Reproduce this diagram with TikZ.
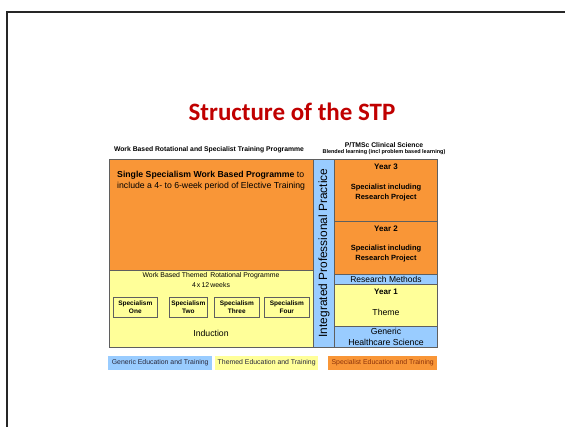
\documentclass[tikz,border=0pt]{standalone}
\usepackage{fontspec}
\setmainfont{Liberation Sans}
\newfontfamily\titlefont{Carlito}
\newcommand\fsz[2]{\fontsize{#1}{#2}\selectfont}
\definecolor{orng}{RGB}{249,150,55}
\definecolor{yel}{RGB}{255,255,153}
\definecolor{blu}{RGB}{153,204,255}
\definecolor{bord}{RGB}{95,95,95}
\definecolor{ttl}{RGB}{192,0,0}
\definecolor{legtxt}{RGB}{40,40,60}
\definecolor{legor}{RGB}{140,50,10}
\tikzset{
  box/.style={draw=bord, line width=0.8pt, inner sep=0pt, anchor=north west},
  legbox/.style={inner sep=0pt, anchor=north west, minimum height=14pt},
  txt/.style={inner sep=0pt},
  smallbox/.style={draw=bord, line width=0.6pt, fill=yel, inner sep=0pt, anchor=north west,
     minimum height=20pt, align=center, font=\bfseries\fsz{6.5}{7.6}},
}
\begin{document}
\begin{tikzpicture}[x=1pt,y=-1pt]
\useasboundingbox (0,0) rectangle (565,427);
% slide frame
\coordinate (fbl) at (7,430);
\coordinate (ftl) at (7,12);
\coordinate (ftr) at (568,12);
\draw[line width=1.5pt, black!85] (fbl) -- (ftl) -- (ftr);
% title
\node[txt, font=\titlefont\bfseries\fsz{25}{30}, text=ttl] (title) at (292,112) {Structure of the STP};
% headers
\node[txt, font=\bfseries\fsz{6.8}{8}] (hdrL) at (209,150) {Work Based Rotational and Specialist Training Programme};
\node[txt, font=\bfseries\fsz{6.8}{8}] (hdrR) at (384,145) {P/TMSc Clinical Science};
\node[txt, font=\bfseries\fsz{5.5}{6.5}] (hdrR2) at (384,152.5) {Blended learning (incl problem based learning)};
% main boxes
\node[box, fill=orng, minimum width=204pt, minimum height=111pt] (spec) at (109,159) {};
\node[box, fill=yel, minimum width=204pt, minimum height=77pt] (them) at (109,270) {};
\node[box, fill=blu, minimum width=21pt, minimum height=188pt] (ipp) at (313,159) {};
\node[box, fill=orng, minimum width=103pt, minimum height=62pt] (y3) at (334,159) {};
\node[box, fill=orng, minimum width=103pt, minimum height=53pt] (y2) at (334,221) {};
\node[box, fill=blu, minimum width=103pt, minimum height=10pt] (rm) at (334,274) {};
\node[box, fill=yel, minimum width=103pt, minimum height=42pt] (y1) at (334,284) {};
\node[box, fill=blu, minimum width=103pt, minimum height=21pt] (gen) at (334,326) {};
% left orange text
\node[txt, anchor=base west, font=\fsz{8.7}{10}] (sl1) at (117,178) {\textbf{Single Specialism Work Based Programme} to};
\node[txt, anchor=base west, font=\fsz{8.7}{10}] (sl2) at (117,189) {include a 4- to 6-week period of Elective Training};
% themed
\node[txt, font=\fsz{6.9}{8}] (th1) at (211,276) {Work Based Themed\, Rotational Programme};
\node[txt, font=\fsz{6.9}{8}] (th2) at (211,285) {4\,x\,12\,weeks};
\node[smallbox, minimum width=44pt] (s1) at (113,297) {Specialism\\One};
\node[smallbox, minimum width=38pt] (s2) at (169,297) {Specialism\\Two};
\node[smallbox, minimum width=45pt] (s3) at (214,297) {Specialism\\Three};
\node[smallbox, minimum width=45pt] (s4) at (264,297) {Specialism\\Four};
\node[txt, font=\fsz{8.7}{10}] (ind) at (211,333) {Induction};
% vertical
\node[txt, rotate=90, font=\fsz{11.9}{14}] (ippt) at (324,253) {Integrated Professional Practice};
% right column texts
\node[txt, font=\bfseries\fsz{8}{10}] (y3a) at (386,167) {Year 3};
\node[txt, font=\bfseries\fsz{7.5}{9}] (y3b) at (386,188) {Specialist including};
\node[txt, font=\bfseries\fsz{7.5}{9}] (y3c) at (386,197.5) {Research Project};
\node[txt, font=\bfseries\fsz{8}{10}] (y2a) at (386,229) {Year 2};
\node[txt, font=\bfseries\fsz{7.5}{9}] (y2b) at (386,249) {Specialist including};
\node[txt, font=\bfseries\fsz{7.5}{9}] (y2c) at (386,258.5) {Research Project};
\node[txt, font=\fsz{8.5}{10}] (rmt) at (386,279) {Research Methods};
\node[txt, font=\bfseries\fsz{8}{10}] (y1a) at (386,292) {Year 1};
\node[txt, font=\fsz{8.7}{10}] (y1b) at (386,312) {Theme};
\node[txt, font=\fsz{8.7}{10}] (g1) at (386,331) {Generic};
\node[txt, font=\fsz{8.7}{10}] (g2) at (386,342) {Healthcare Science};
% legend
\node[legbox, fill=blu, minimum width=104pt] (lb) at (108,356) {};
\node[legbox, fill=yel, minimum width=103pt] (ly) at (215,356) {};
\node[legbox, fill=orng, minimum width=109pt] (lo) at (328,356) {};
\node[txt, font=\fsz{6.9}{8}, text=legtxt] at (lb.center) {Generic Education and Training};
\node[txt, font=\fsz{6.9}{8}, text=legtxt] at (ly.center) {Themed Education and Training};
\node[txt, font=\fsz{6.9}{8}, text=legor] at (lo.center) {Specialist Education and Training};
\end{tikzpicture}
\end{document}
